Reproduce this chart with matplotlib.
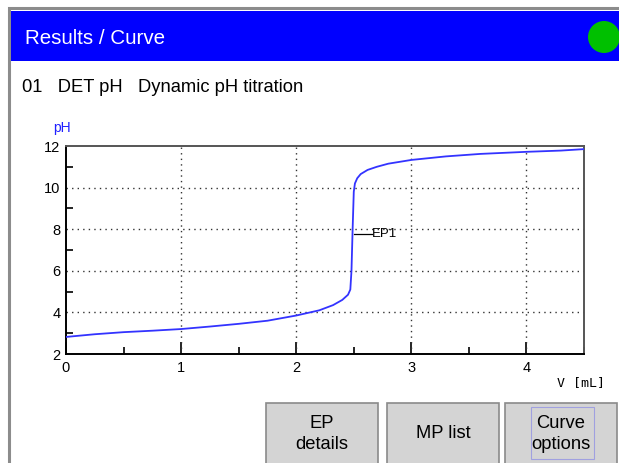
"""Titration curve screen: Results / Curve."""

import matplotlib

matplotlib.use("Agg")
import matplotlib.pyplot as plt
from matplotlib.patches import Rectangle, Circle
from matplotlib.ticker import MultipleLocator

plt.rcParams["font.family"] = ["Liberation Sans", "DejaVu Sans"]

# titration data
volume_ml = [0.0, 0.25, 0.5, 0.75, 1.0, 1.25, 1.5, 1.75, 2.0, 2.2, 2.32, 2.4,
             2.45, 2.47, 2.48, 2.49, 2.50, 2.51, 2.53, 2.56, 2.62, 2.7, 2.8,
             3.0, 3.3, 3.6, 4.0, 4.3, 4.5]
ph_values = [2.82, 2.95, 3.05, 3.12, 3.2, 3.32, 3.45, 3.6, 3.85, 4.1, 4.35, 4.6,
             4.85, 5.1, 6.0, 8.0, 9.8, 10.2, 10.45, 10.65, 10.85, 11.0, 11.15,
             11.33, 11.5, 11.62, 11.72, 11.78, 11.85]
ep_volume = 2.50
ep_ph = 7.77
ep_label = "EP1"

header_title = "Results / Curve"
method_line = "01   DET pH   Dynamic pH titration"
buttons = ["EP\ndetails", "MP list", "Curve\noptions"]

W, H = 619, 463
fig = plt.figure(figsize=(W / 100, H / 100), dpi=100)

# full-figure pixel canvas for the screen chrome
ui = fig.add_axes([0, 0, 1, 1])
ui.set_xlim(0, W)
ui.set_ylim(H, 0)
ui.axis("off")

ui.add_patch(Rectangle((9, 8), W, H, facecolor="white", edgecolor="#8c8c8c", linewidth=2.2))
ui.add_patch(Rectangle((11, 11), W, 50, facecolor="#0000ff", edgecolor="none"))
ui.add_patch(Circle((604, 37), 16, facecolor="#00c000", edgecolor="none"))
ui.text(25, 39, header_title, color="white", fontsize=14.8, va="center", ha="left")
ui.text(22, 88, method_line, color="black", fontsize=13.2, va="center", ha="left")

button_x = [266, 387, 505]
for bx, label in zip(button_x, buttons):
    ui.add_patch(Rectangle((bx, 403), 112, 70, facecolor="#d4d4d4",
                           edgecolor="#8a8a8a", linewidth=1.2))
    ui.text(bx + 56, 434, label, fontsize=13.2, ha="center", va="center",
            linespacing=1.35)
ui.add_patch(Rectangle((531, 407), 63, 52, facecolor="none",
                       edgecolor="#a0a0e0", linewidth=0.8))

ui.text(62, 128, "pH", color="#2020ff", fontsize=10, ha="center", va="center")
ui.text(605, 383, "V [mL]", fontsize=9.5, ha="right", va="center",
        family="DejaVu Sans Mono")

# plot area
ax = fig.add_axes([66 / W, (H - 354) / H, 518 / W, 208 / H])
ax.plot(volume_ml, ph_values, color="#3333ff", linewidth=1.3, zorder=3)
ax.plot([ep_volume, ep_volume + 0.16], [ep_ph, ep_ph], color="black", linewidth=0.9)
ax.text(ep_volume + 0.16, ep_ph, ep_label, fontsize=9.5, va="center", ha="left")

ax.set_xlim(0, 4.5)
ax.set_ylim(2, 12)
ax.xaxis.set_major_locator(MultipleLocator(1))
ax.xaxis.set_minor_locator(MultipleLocator(0.5))
ax.yaxis.set_major_locator(MultipleLocator(2))
ax.yaxis.set_minor_locator(MultipleLocator(1))
ax.tick_params(which="major", direction="in", length=9, width=1.2, labelsize=10.5, pad=5)
ax.tick_params(which="minor", direction="in", length=5, width=1.2)
ax.tick_params(axis="y", which="major", length=0, pad=4)

for v in [1, 2, 3, 4]:
    ax.axvline(v, color="#333333", linestyle=(0, (1, 3)), linewidth=1)
for p in [4, 6, 8, 10]:
    ax.axhline(p, color="#333333", linestyle=(0, (1, 3)), linewidth=1)

for side in ["left", "bottom"]:
    ax.spines[side].set_linewidth(1.4)
for side in ["top", "right"]:
    ax.spines[side].set_color("#555555")
    ax.spines[side].set_linewidth(1.4)

fig.savefig("out.png", dpi=100)
